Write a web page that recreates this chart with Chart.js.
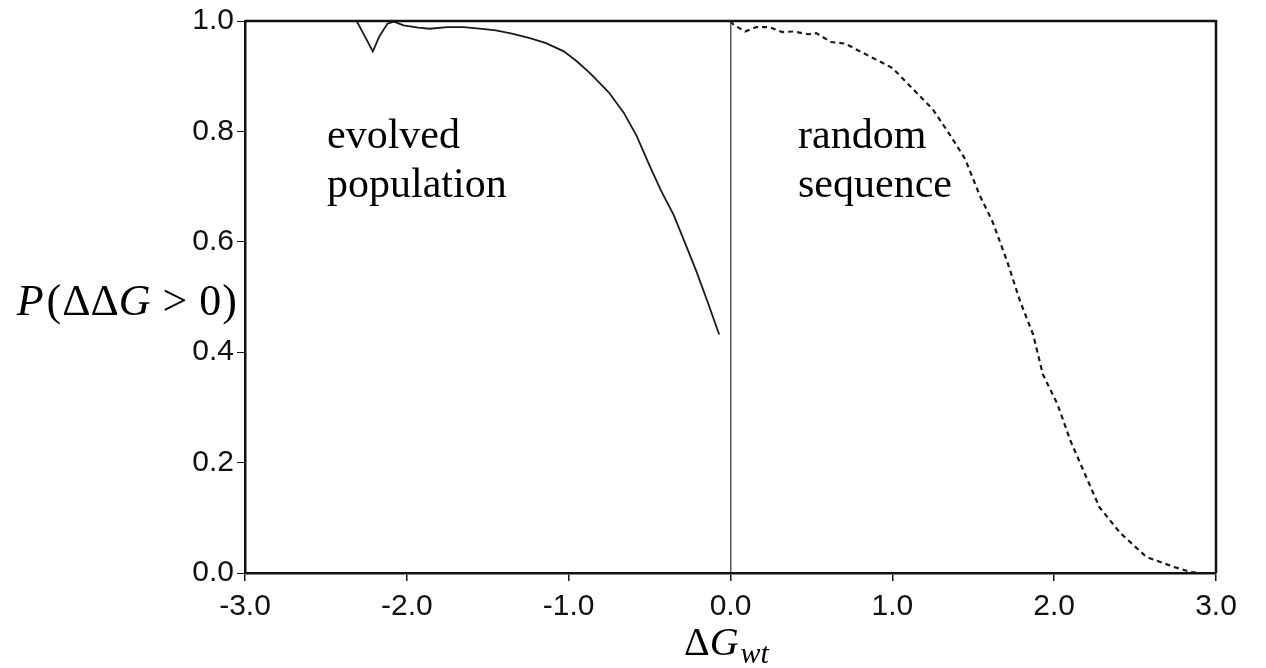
<!DOCTYPE html>
<html>
<head>
<meta charset="utf-8">
<script src="https://cdn.jsdelivr.net/npm/chart.js@4"></script>
<style>
  html, body { margin: 0; padding: 0; background: #fff; }
  #wrap { width: 1266px; height: 668px; }
</style>
</head>
<body>
<div id="wrap"><canvas id="chart" width="1266" height="668"></canvas></div>
<script>
// evolved population (solid)
const evolvedX = [-2.31, -2.27, -2.21, -2.17, -2.12, -2.08, -2.02, -1.93, -1.86, -1.75, -1.65, -1.55,
  -1.45, -1.35, -1.24, -1.14, -1.03, -0.95, -0.87, -0.80, -0.75, -0.66, -0.58, -0.50, -0.43,
  -0.35, -0.28, -0.21, -0.14, -0.07];
const evolvedP = [1.0, 0.978, 0.945, 0.972, 0.995, 0.999, 0.992, 0.988, 0.986, 0.989, 0.989, 0.986,
  0.983, 0.977, 0.969, 0.960, 0.945, 0.927, 0.906, 0.885, 0.870, 0.834, 0.792, 0.738, 0.693,
  0.648, 0.597, 0.546, 0.490, 0.432];

// random sequence (dashed)
const randomX = [0.0, 0.02, 0.09, 0.16, 0.24, 0.32, 0.39, 0.48, 0.53, 0.62, 0.71, 0.80, 0.90, 1.00,
  1.09, 1.17, 1.25, 1.36, 1.45, 1.54, 1.62, 1.71, 1.79, 1.87, 1.93, 2.02, 2.10, 2.18, 2.28,
  2.41, 2.57, 2.74, 2.84, 2.90];
const randomP = [1.0, 0.993, 0.981, 0.989, 0.989, 0.980, 0.981, 0.976, 0.978, 0.962, 0.959, 0.945,
  0.930, 0.915, 0.888, 0.864, 0.840, 0.792, 0.750, 0.684, 0.636, 0.564, 0.492, 0.432, 0.360,
  0.306, 0.240, 0.186, 0.119, 0.072, 0.029, 0.011, 0.002, 0.0];

const xTicks = [-3, -2, -1, 0, 1, 2, 3];
const yTicks = [0, 0.2, 0.4, 0.6, 0.8, 1.0];

const toPoints = (xs, ys) => xs.map((x, i) => ({ x: x, y: ys[i] }));

const tickFont = { family: "'Liberation Sans', Arial, sans-serif", size: 30 };

// frame (top/right) and the text labels
const overlay = {
  id: "overlay",
  afterDraw(chart) {
    const { ctx, chartArea: a } = chart;
    ctx.save();
    ctx.strokeStyle = "#111";
    ctx.lineWidth = 2.5;
    ctx.beginPath();
    ctx.moveTo(a.left, a.top);
    ctx.lineTo(a.right, a.top);
    ctx.lineTo(a.right, a.bottom);
    ctx.stroke();

    ctx.fillStyle = "#000";
    ctx.textBaseline = "alphabetic";
    ctx.textAlign = "left";
    ctx.font = "42px 'Liberation Serif', serif";
    ctx.fillText("evolved", 327, 148);
    ctx.fillText("population", 327, 197);
    ctx.fillText("random", 798, 148);
    ctx.fillText("sequence", 798, 197);

    // y title: P(ΔΔG > 0)
    const ital = "italic 44px 'Liberation Serif', serif";
    const norm = "44px 'Liberation Serif', serif";
    const parts = [
      [ital, "P", 3], [norm, "(", 1], [norm, "ΔΔ", 0], [ital, "G", 12],
      [norm, ">", 12], [norm, "0", 1], [norm, ")", 0],
    ];
    let total = 0;
    parts.forEach(([f, s, gap]) => { ctx.font = f; total += ctx.measureText(s).width + gap; });
    let x = 237 - total;
    parts.forEach(([f, s, gap]) => {
      ctx.font = f;
      ctx.fillText(s, x, 315);
      x += ctx.measureText(s).width + gap;
    });

    // x title: ΔG_wt
    ctx.font = "40px 'Liberation Serif', serif";
    ctx.fillText("Δ", 684, 655);
    let w = ctx.measureText("Δ").width;
    ctx.font = "italic 40px 'Liberation Serif', serif";
    ctx.fillText("G", 684 + w, 655);
    w += ctx.measureText("G").width;
    ctx.font = "italic 30px 'Liberation Serif', serif";
    ctx.fillText("wt", 686 + w, 663);
    ctx.restore();
  },
};

new Chart(document.getElementById("chart").getContext("2d"), {
  type: "scatter",
  data: {
    datasets: [
      {
        label: "evolved population",
        data: toPoints(evolvedX, evolvedP),
        showLine: true,
        borderColor: "#1a1a1a",
        borderWidth: 1.8,
        pointRadius: 0,
        tension: 0,
      },
      {
        label: "random sequence",
        data: toPoints(randomX, randomP),
        showLine: true,
        borderColor: "#1a1a1a",
        borderWidth: 2.2,
        borderDash: [5, 4],
        pointRadius: 0,
        tension: 0,
      },
    ],
  },
  options: {
    responsive: false,
    animation: false,
    devicePixelRatio: 1,
    layout: { padding: { left: 0, right: 50, top: 17, bottom: 0 } },
    plugins: { legend: { display: false }, tooltip: { enabled: false } },
    scales: {
      x: {
        type: "linear",
        min: -3,
        max: 3,
        afterBuildTicks: (scale) => { scale.ticks = xTicks.map((v) => ({ value: v })); },
        afterFit: (scale) => { scale.height = 95; },
        ticks: {
          font: tickFont,
          color: "#111",
          padding: 8,
          maxRotation: 0,
          callback: (v) => Number(v).toFixed(1),
        },
        grid: {
          drawOnChartArea: true,
          color: (c) => (c.tick && c.tick.value === 0 ? "#555" : "rgba(0,0,0,0)"),
          lineWidth: 1.5,
          tickColor: "#111",
          tickLength: 8,
        },
        border: { display: true, color: "#111", width: 2.5 },
      },
      y: {
        type: "linear",
        min: 0,
        max: 1,
        afterBuildTicks: (scale) => { scale.ticks = yTicks.map((v) => ({ value: v })); },
        afterFit: (scale) => { scale.width = 245; },
        ticks: {
          font: tickFont,
          color: "#111",
          padding: 3,
          callback: (v) => Number(v).toFixed(1),
        },
        grid: {
          drawOnChartArea: false,
          tickColor: "#111",
          tickLength: 8,
        },
        border: { display: true, color: "#111", width: 2.5 },
      },
    },
  },
  plugins: [overlay],
});
</script>
</body>
</html>
